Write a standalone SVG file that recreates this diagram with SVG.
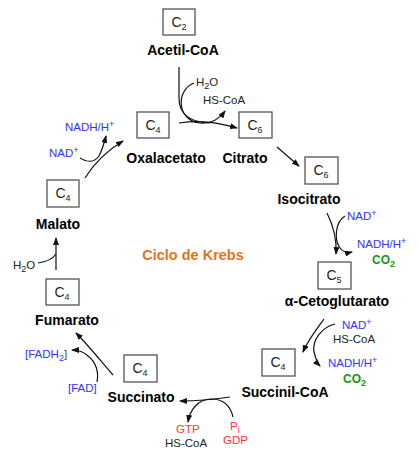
<svg xmlns="http://www.w3.org/2000/svg" width="419" height="461" viewBox="0 0 419 461">
<defs>
<marker id="ah" markerUnits="userSpaceOnUse" markerWidth="8" markerHeight="6" refX="7" refY="3" orient="auto">
<path d="M0,0 L8,3 L0,6 z" fill="#111"/>
</marker>
<style>
.box{fill:#fff;stroke:#555;stroke-width:1.3}
.c{font-family:"Liberation Sans",Arial,sans-serif;font-size:14px;fill:#222;text-anchor:middle}
.sub{font-size:9px}
.name{font-family:"Liberation Sans",Arial,sans-serif;font-size:14px;font-weight:bold;fill:#000;text-anchor:middle}
.lbl{font-family:"Liberation Sans",Arial,sans-serif;font-size:11.5px;fill:#222}
.blue{fill:#3333ff}
.green{fill:#119911;font-weight:bold;font-size:12px}
.red{fill:#ff3333}
.ln{fill:none;stroke:#111;stroke-width:1.2}
.title{font-family:"Liberation Sans",Arial,sans-serif;font-size:14.5px;font-weight:bold;fill:#e47318;text-anchor:middle}
</style>
</defs>
<rect width="419" height="461" fill="#fff"/>

<g id="connectors">
<path class="ln" d="M179,67 L179,98 C179,115 190,122 210,123"/>
<path class="ln" d="M179,123 C200,120 215,122 237,128" marker-end="url(#ah)"/>
<path class="ln" d="M194,83 C176,90 176,120 200,123 C212,124 220,118 225,111" marker-end="url(#ah)"/>
<path class="ln" d="M277,147 L299,166" marker-end="url(#ah)"/>
<path class="ln" d="M327,213 C333,225 337,238 336,254" marker-end="url(#ah)"/>
<path class="ln" d="M345,216 C335,222 334,240 340,248 C343,252 348,253 352,252" marker-end="url(#ah)"/>
<path class="ln" d="M324,319 C316,330 308,340 303,352" marker-end="url(#ah)"/>
<path class="ln" d="M335,324 C322,327 312,340 314,352 C316,360 318,364 320,366" marker-end="url(#ah)"/>
<path class="ln" d="M230,397 C210,400 195,401 180,401" marker-end="url(#ah)"/>
<path class="ln" d="M233,417 C230,404 222,399 211,399 C198,399 190,410 188,422" marker-end="url(#ah)"/>
<path class="ln" d="M113,375 C100,360 88,345 76,333" marker-end="url(#ah)"/>
<path class="ln" d="M97,382 C99,372 96,362 88,356 C84,352 78,350 72,350" marker-end="url(#ah)"/>
<path class="ln" d="M56,270 L56,238" marker-end="url(#ah)"/>
<path class="ln" d="M38,263 C46,262 52,260 56,254"/>
<path class="ln" d="M85,178 C95,162 108,150 123,141" marker-end="url(#ah)"/>
<path class="ln" d="M80,158 C88,163 95,162 99,156 C102,150 104,144 106,136" marker-end="url(#ah)"/>
</g>

<g id="acetilcoa">
<rect class="box" x="163" y="9" width="32" height="26"/>
<text class="c" x="179" y="27">C<tspan class="sub" dy="3">2</tspan></text>
<text class="name" x="183" y="55">Acetil-CoA</text>
</g>
<g id="oxalacetato">
<rect class="box" x="137" y="112" width="32" height="26"/>
<text class="c" x="153" y="130">C<tspan class="sub" dy="3">4</tspan></text>
<text class="name" x="166" y="163">Oxalacetato</text>
</g>
<g id="citrato">
<rect class="box" x="239" y="112" width="33" height="26"/>
<text class="c" x="255" y="130">C<tspan class="sub" dy="3">6</tspan></text>
<text class="name" x="245" y="163">Citrato</text>
</g>
<g id="isocitrato">
<rect class="box" x="305" y="157" width="33" height="27"/>
<text class="c" x="321" y="175">C<tspan class="sub" dy="3">6</tspan></text>
<text class="name" x="309" y="204">Isocitrato</text>
</g>
<g id="cetoglutarato">
<rect class="box" x="318" y="262" width="33" height="27"/>
<text class="c" x="334" y="280">C<tspan class="sub" dy="3">5</tspan></text>
<text class="name" x="337" y="306">α-Cetoglutarato</text>
</g>
<g id="succinilcoa">
<rect class="box" x="262" y="349" width="33" height="27"/>
<text class="c" x="278" y="367">C<tspan class="sub" dy="3">4</tspan></text>
<text class="name" x="285" y="397">Succinil-CoA</text>
</g>
<g id="succinato">
<rect class="box" x="124" y="355" width="33" height="27"/>
<text class="c" x="140" y="373">C<tspan class="sub" dy="3">4</tspan></text>
<text class="name" x="141" y="402">Succinato</text>
</g>
<g id="fumarato">
<rect class="box" x="46" y="279" width="33" height="26"/>
<text class="c" x="62" y="297">C<tspan class="sub" dy="3">4</tspan></text>
<text class="name" x="67" y="325">Fumarato</text>
</g>
<g id="malato">
<rect class="box" x="47" y="180" width="32" height="27"/>
<text class="c" x="63" y="198">C<tspan class="sub" dy="3">4</tspan></text>
<text class="name" x="58" y="229">Malato</text>
</g>

<g id="labels">
<text class="lbl" x="196" y="86">H<tspan class="sub" dy="3">2</tspan><tspan dy="-3">O</tspan></text>
<text class="lbl" x="203" y="104">HS-CoA</text>
<text class="lbl blue" x="347" y="220">NAD<tspan class="sub" dy="-4">+</tspan></text>
<text class="lbl blue" x="357" y="248">NADH/H<tspan class="sub" dy="-4">+</tspan></text>
<text class="lbl green" x="372" y="264">CO<tspan class="sub" dy="3">2</tspan></text>
<text class="lbl blue" x="342" y="329">NAD<tspan class="sub" dy="-4">+</tspan></text>
<text class="lbl" x="333" y="343">HS-CoA</text>
<text class="lbl blue" x="328" y="367">NADH/H<tspan class="sub" dy="-4">+</tspan></text>
<text class="lbl green" x="343" y="383">CO<tspan class="sub" dy="3">2</tspan></text>
<text class="lbl red" x="230" y="430">P<tspan class="sub" dy="3">i</tspan></text>
<text class="lbl red" x="223" y="444">GDP</text>
<text class="lbl red" x="176" y="433">GTP</text>
<text class="lbl" x="165" y="447">HS-CoA</text>
<text class="lbl blue" x="25" y="358">[FADH<tspan class="sub" dy="3">2</tspan><tspan dy="-3">]</tspan></text>
<text class="lbl blue" x="68" y="392">[FAD]</text>
<text class="lbl" x="13" y="269">H<tspan class="sub" dy="3">2</tspan><tspan dy="-3">O</tspan></text>
<text class="lbl blue" x="65" y="131">NADH/H<tspan class="sub" dy="-4">+</tspan></text>
<text class="lbl blue" x="49" y="157">NAD<tspan class="sub" dy="-4">+</tspan></text>
<text class="title" x="193" y="260">Ciclo de Krebs</text>
</g>
</svg>
